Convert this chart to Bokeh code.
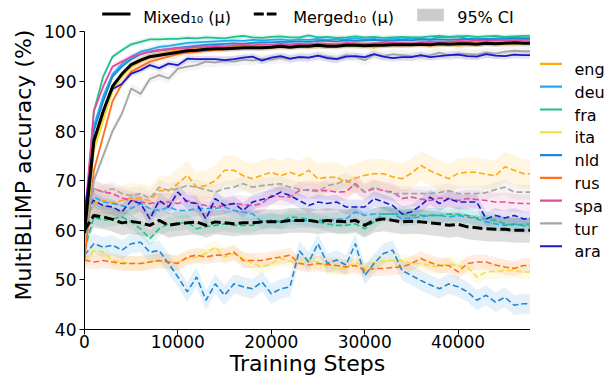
from bokeh.plotting import figure
from bokeh.models import Range1d, FixedTicker
from bokeh.layouts import row
from bokeh.core.properties import value
from bokeh.embed import file_html
from bokeh.resources import INLINE

steps = [0, 1000, 2000, 3000, 4000, 5000, 6000, 7000, 8000, 9000,
         10000, 11000, 12000, 13000, 14000, 15000, 16000, 17000, 18000, 19000,
         20000, 21000, 22000, 23000, 24000, 25000, 26000, 27000, 28000, 29000,
         30000, 31000, 32000, 33000, 34000, 35000, 36000, 37000, 38000, 39000,
         40000, 41000, 42000, 43000, 44000, 45000, 46000, 47000, 48000]

languages = ["eng", "deu", "fra", "ita", "nld", "rus", "spa", "tur", "ara"]
x_ticks = [0, 10000, 20000, 30000, 40000]
y_ticks = [40, 50, 60, 70, 80, 90, 100]
top_labels = ["Mixed\u2081\u2080 (\u03bc)", "Merged\u2081\u2080 (\u03bc)", "95% CI"]

# Mixed_10 models (solid lines)
mixed_eng = [58, 77, 83, 88.5, 91, 93, 94, 95, 95.5, 96, 96.2, 96.4, 96.5, 96.7, 96.8, 96.9, 97, 97.1, 97.2, 96.9,
             97.3, 97.4, 97.2, 97.5, 97.6, 97.3, 97.4, 97.6, 97.5, 97.3, 97.4, 96.8, 97.5, 97.6, 97.4, 97.5, 97.7, 97.2,
             97.6, 97.7, 97.2, 97.5, 97.7, 97.8, 97.6, 97.7, 97.8, 97.9, 97.9]
mixed_deu = [60, 81, 87, 91.5, 93.5, 95, 96, 96.5, 97, 97.2, 97.5, 97.8, 97.9, 98, 98.1, 98.2, 98.3, 98.2, 98.4, 98.3,
             98.4, 98.5, 98.3, 98.5, 98.4, 98.6, 98.4, 98.6, 98.5, 98.7, 98.5, 98.6, 98.4, 98.7, 98.5, 98.7, 98.6, 98.5,
             99, 98.9, 99.1, 98.6, 98.7, 98.5, 98.7, 98.8, 98.9, 98.8, 98.8]
mixed_fra = [60, 84, 91, 95, 96.3, 97.5, 98, 98.5, 98.5, 98.6, 98.6, 98.8, 98.7, 98.9, 98.8, 98.7, 99, 99.2, 98.9, 98.8,
             99, 99.1, 98.9, 98.9, 99.3, 98.9, 99, 98.8, 98.9, 99.1, 98.9, 99, 98.8, 98.9, 99, 98.9, 98.9, 99.1,
             99.2, 99, 99.1, 99.2, 99, 99.1, 99.2, 99, 99.1, 99.2, 99.2]
mixed_ita = [57, 76, 82, 88, 91, 93, 94.5, 95, 95.5, 95.8, 96, 96.2, 96.4, 96.5, 96.7, 96.8, 96.8, 96.9, 97, 97,
             97.1, 97.1, 97.2, 97.2, 97.1, 97.3, 97.2, 97.3, 97.3, 97.2, 97.4, 97.3, 97.4, 97.3, 97.4, 97.5, 97.4, 97.5,
             97.4, 97.5, 97.5, 97.6, 97.5, 97.6, 97.6, 97.7, 97.6, 97.7, 97.7]
mixed_nld = [61, 80, 86, 91, 93, 94.5, 95.5, 96, 96.3, 96.5, 96.8, 97, 97.2, 97.4, 97.5, 97.6, 97.7, 97.6, 97.8, 97.9,
             97.9, 98, 98, 98.1, 98, 98.2, 98.2, 98.1, 98.3, 98.2, 98.3, 98.4, 98.2, 98.3, 98.4, 98.3, 98.5, 98.4,
             98.5, 98.4, 98.5, 98.6, 98.5, 98.6, 98.5, 98.6, 98.7, 98.6, 98.6]
mixed_rus = [54, 72, 79, 86, 89.5, 92, 93, 94, 94.5, 95, 95.5, 95.8, 96, 96.2, 96.4, 96.5, 96.6, 96.7, 96.8, 96.8,
             96.9, 97, 97, 97.1, 97.1, 97.2, 97.2, 97.3, 97.3, 97.4, 97.4, 97.4, 97.5, 97.5, 97.5, 97.6, 97.6, 97.6,
             97.7, 97.7, 97.7, 97.8, 97.7, 97.8, 97.8, 97.9, 97.9, 97.9, 97.9]
mixed_spa = [62, 84, 89, 93, 94, 95, 95.5, 96, 96.3, 96.5, 96.7, 96.8, 96.9, 97, 97.2, 97.1, 97.3, 97.4, 97.3, 97.5,
             97.4, 97.6, 97.5, 97.6, 97.5, 97.7, 97.6, 97.5, 97.8, 97.7, 97.6, 97.7, 97.8, 97.9, 97.8, 97.7, 97.9, 98,
             97.9, 98, 98.2, 98.1, 98.3, 98.2, 98.3, 98.4, 98.3, 98.4, 98.4]
mixed_tur = [58, 70, 75, 80, 83.5, 88.6, 87.5, 90.5, 91.3, 90.6, 92.6, 93, 93.3, 94, 93.8, 94.2, 94, 94.4, 94.2, 94.6,
             94.4, 94.8, 94.5, 95, 94.8, 95.2, 95, 94.6, 95.3, 95, 94.3, 95.4, 95.1, 95.5, 95.3, 95.1, 95, 95.3,
             95.8, 95.2, 95.6, 95.5, 95.4, 95.8, 95.6, 96, 96.2, 96.1, 96.1]
mixed_ara = [63.5, 78, 84, 88.5, 89.5, 91.6, 92.3, 93.3, 92.7, 93.6, 93.3, 94.6, 94.5, 94.5, 94.5, 94.3, 94.5, 94.8, 95, 94.2,
             94.8, 95.1, 94.6, 94.9, 94.8, 95.2, 94.7, 94.5, 95, 95.1, 94.9, 95.5, 95, 94.7, 94.9, 94.9, 95.3, 94.9,
             95.1, 95.3, 95.4, 95.1, 95, 95.5, 95.2, 95.1, 95.4, 95.3, 95.3]
mixed_mean = [59.5, 78, 84, 89, 91.5, 93.4, 94.3, 95, 95.3, 95.6, 95.9, 96.2, 96.3, 96.5, 96.6, 96.6, 96.7, 96.8, 96.8, 96.8,
              96.9, 97.1, 96.9, 97.1, 97.1, 97.3, 97.1, 97.1, 97.3, 97.3, 97.2, 97.3, 97.3, 97.4, 97.4, 97.4, 97.5, 97.4,
              97.6, 97.5, 97.6, 97.6, 97.5, 97.7, 97.6, 97.7, 97.8, 97.7, 97.7]

# Merged_10 models (dashed lines)
merged_eng = [62, 65.5, 66, 65.5, 66, 66.5, 66.4, 66, 68, 68, 69.4, 71.1, 68.7, 69, 70, 72.1, 72.1, 71, 70.4, 71.1,
              71.7, 71, 71.7, 71, 72.1, 70.4, 70.7, 70.7, 69.7, 70.5, 71.1, 71.4, 71.4, 70.8, 70.4, 71.5, 73.1, 72,
              71.2, 70.4, 71.5, 71.7, 71.7, 71.3, 71, 72.8, 72.1, 71.4, 71.4]
merged_deu = [60, 66.7, 65.7, 65.4, 65, 64.4, 65.4, 64.4, 64, 64.7, 64, 64, 64.4, 64.4, 64.4, 64.7, 64, 63.7, 63.3, 61.7,
              62, 61.7, 61.8, 62, 62, 62, 62, 62.2, 62.3, 63.7, 63, 63.3, 63.3, 63.3, 62.3, 62.5, 62.7, 63,
              63, 62.7, 63, 62.7, 62.3, 61.7, 61.3, 61, 61.3, 60.9, 60.7]
merged_fra = [56, 62.7, 62, 62.3, 62.7, 61.7, 60.3, 58.3, 60.3, 61.3, 61.3, 61.7, 60.3, 60.7, 61, 61.3, 61, 61, 61, 61.7,
              62, 61.7, 62.7, 62.5, 62.3, 61.7, 61.3, 61, 61, 61.3, 60.3, 61.7, 63.3, 63.3, 63.3, 63, 63, 63,
              63, 63.3, 63.2, 63, 62.5, 62.3, 62, 61.3, 61, 61.2, 61.3]
merged_ita = [54, 55.9, 55.6, 53.9, 53.6, 53.3, 53.3, 53.6, 53.9, 53.7, 53.6, 54.3, 54.6, 55.3, 56.6, 54.6, 55.3, 54.3, 53.3, 52.6,
              53.3, 54.3, 53.8, 53.3, 53.9, 53.6, 52.6, 52.4, 52.3, 53.6, 52.3, 53.3, 53.9, 53.9, 53.9, 53.3, 53.3, 52.9,
              52.6, 53.3, 52.8, 52.6, 50.6, 51.6, 51.7, 51.9, 51.9, 51.6, 51.6]
merged_nld = [55, 57.3, 56.6, 57, 56, 57.3, 57.6, 55.6, 55.9, 53.3, 50.6, 47.6, 50.6, 45.9, 49.2, 46.9, 49.2, 48.6, 48.2, 49.6,
              47.2, 48.2, 48.6, 55.9, 53.6, 57.3, 53.3, 54, 53, 57.3, 50.9, 53.3, 55.3, 56, 51.9, 50.9, 49.9, 49,
              48.2, 49.2, 48.6, 47.6, 45.9, 46.9, 45.5, 46.5, 44.9, 45.2, 45.2]
merged_rus = [54, 53.6, 53.9, 53.6, 53.3, 53.3, 53.3, 53.6, 53.9, 53.6, 53.3, 54.6, 55, 54.6, 55, 55, 55.6, 53.9, 53.9, 53.9,
              54.3, 54.6, 55, 53.3, 53, 53.3, 53.1, 52.9, 52.6, 52.9, 51.9, 52.3, 52.3, 52.5, 52.6, 53.3, 54.3, 53.5,
              52.9, 52.9, 51.6, 53.3, 53.6, 53.6, 53, 52.6, 52.3, 52.9, 52.9]
merged_spa = [62, 68.4, 67.7, 67.4, 66.5, 66, 65.7, 65.4, 65.7, 65.7, 65.4, 66, 65.4, 65, 64.7, 65, 65.4, 65.2, 65, 65.4,
              67, 66.8, 66.7, 68, 68.2, 68, 68, 67.7, 67.8, 69.4, 67.7, 68.4, 68, 67.7, 66.4, 66.7, 66.3, 66,
              66.5, 66.4, 66, 66.4, 66.2, 66, 65.7, 65.7, 65.5, 65.4, 65.4]
merged_tur = [63, 68.4, 67.7, 68.4, 67.4, 67, 67.4, 66.4, 68.7, 68, 68.4, 69, 68.7, 68.2, 67.7, 68.4, 68.7, 69.4, 68.7, 69,
              69.2, 69.4, 68.7, 68.3, 68, 67.8, 69, 69.4, 70.1, 69, 67.7, 68.7, 68, 67.4, 67.4, 67.4, 67.4, 67.4,
              67.6, 68, 67.4, 67.4, 67.4, 67.6, 68.2, 68.7, 67.7, 67.7, 67.7]
merged_ara = [64, 66, 65, 64.7, 63.7, 66, 65.4, 62.3, 66, 64.7, 67.7, 65.7, 65.4, 62.3, 66.4, 65, 65.4, 64, 65.7, 66.2,
              66.7, 67.7, 67, 66, 65, 65.7, 65.4, 65.7, 64.7, 64.7, 64.7, 66.4, 65.7, 65, 63.3, 63.7, 65, 66.7,
              65.4, 66.4, 65.7, 65.7, 65.7, 62.3, 63, 62.5, 63, 62.3, 62.3]
merged_mean = [60, 63, 62.7, 62.2, 61.5, 61.8, 61.5, 61, 62, 61, 61.3, 61.5, 61.7, 61, 61.7, 61.5, 61.3, 61.5, 61.5, 61.7,
               61.7, 61.7, 62, 62, 62, 61.7, 62, 61.8, 61.7, 62, 61, 62, 62.3, 62, 61.7, 61.8, 61.7, 61.5,
               61.3, 61, 61.2, 60.7, 60.5, 60.3, 60.2, 60.2, 60, 60, 60]

# half width of the 95% CI bands
ci_mixed = [0.7, 0.5, 0.5, 0.6, 0.5, 0.6, 0.6, 1.0, 0.7]
ci_merged = [3.0, 1.5, 1.5, 1.5, 2.0, 1.5, 1.8, 1.5, 1.5]
ci_mixed_mean = 0.6
ci_merged_mean = 2.5

colors = ["#ffa90a", "#22aaee", "#1fbf8f", "#f2df3a", "#1f88d3", "#ff6f1c", "#e64a9c", "#a5a5a5", "#1919c8"]

mixed = dict(zip(languages, [mixed_eng, mixed_deu, mixed_fra, mixed_ita, mixed_nld,
                             mixed_rus, mixed_spa, mixed_tur, mixed_ara]))
merged = dict(zip(languages, [merged_eng, merged_deu, merged_fra, merged_ita, merged_nld,
                              merged_rus, merged_spa, merged_tur, merged_ara]))

FONT = "DejaVu Sans"
H = 381
MAIN_W = 530
RIGHT_W = 613 - MAIN_W
BL, BB = 84, 52           # left / bottom borders of the main plot (pixels)
X_END = 47750
FRAME_W, FRAME_H = MAIN_W - BL, H - BB
PX_PER_UNIT = 4.96        # vertical pixels per accuracy point
Y_TOP = 40 + FRAME_H / PX_PER_UNIT   # frame reaches the top of the canvas; the axis stops at 100


def sx(px):   # canvas pixel -> data x (layout helper for the legend)
    return (px - BL) / FRAME_W * X_END


def sy(py):   # canvas pixel -> data y (layout helper for the legend)
    return 40 + (FRAME_H - py) / PX_PER_UNIT


# ---------- main plot ----------
p = figure(width=MAIN_W, height=H, x_range=Range1d(0, X_END), y_range=Range1d(40, Y_TOP),
           output_backend="svg", toolbar_location=None,
           min_border_left=BL, min_border_right=0, min_border_top=0, min_border_bottom=BB)
p.outline_line_color = None
p.xgrid.visible = False
p.ygrid.visible = False
p.background_fill_color = "white"
p.border_fill_color = "white"

p.xaxis.ticker = FixedTicker(ticks=x_ticks)
p.yaxis.ticker = FixedTicker(ticks=y_ticks)
p.yaxis.bounds = (40, 100)
for ax in (p.xaxis[0], p.yaxis[0]):
    ax.axis_line_color = "black"
    ax.axis_line_width = 1
    ax.major_tick_line_color = "black"
    ax.major_tick_line_width = 1
    ax.major_tick_out = 5
    ax.major_tick_in = 0
    ax.minor_tick_out = 0
    ax.minor_tick_in = 0
    ax.major_label_text_font = FONT
    ax.major_label_text_font_size = "17px"
    ax.major_label_text_color = "black"
    ax.axis_label_text_font = FONT
    ax.axis_label_text_font_style = "normal"
    ax.axis_label_text_font_size = "22px"
    ax.axis_label_text_color = "black"
p.xaxis.axis_label = "Training Steps"
p.yaxis.axis_label = "MultiBLiMP accuracy (%)"
p.xaxis.major_label_standoff = 0
p.xaxis.axis_label_standoff = 0
p.yaxis.major_label_standoff = 3
p.yaxis.axis_label_standoff = 5

for lang, c, hw in zip(languages, colors, ci_merged):
    v = merged[lang]
    p.varea(x=steps, y1=[a - hw for a in v], y2=[a + hw for a in v], fill_color=c, fill_alpha=0.12)
for lang, c, hw in zip(languages, colors, ci_mixed):
    v = mixed[lang]
    p.varea(x=steps, y1=[a - hw for a in v], y2=[a + hw for a in v], fill_color=c, fill_alpha=0.12)
p.varea(x=steps, y1=[a - ci_merged_mean for a in merged_mean], y2=[a + ci_merged_mean for a in merged_mean],
        fill_color="black", fill_alpha=0.13)
p.varea(x=steps, y1=[a - ci_mixed_mean for a in mixed_mean], y2=[a + ci_mixed_mean for a in mixed_mean],
        fill_color="black", fill_alpha=0.13)

for lang, c in zip(languages, colors):
    p.line(steps, merged[lang], line_color=c, line_width=1.6, line_dash="6 3")
for lang, c in zip(languages, colors):
    p.line(steps, mixed[lang], line_color=c, line_width=1.8)
p.line(steps, merged_mean, line_color="black", line_width=3, line_dash="10 4")
p.line(steps, mixed_mean, line_color="black", line_width=3)

# ---------- top legend, drawn in the free space above y = 100 ----------
p.line([sx(101.7), sx(130)], [sy(13.5), sy(13.5)], line_color="black", line_width=3)
p.line([sx(253.3), sx(276)], [sy(13.5), sy(13.5)], line_color="black", line_width=3, line_dash="10 3")
p.quad(left=[sx(416.7)], right=[sx(443.3)], top=[sy(8.3)], bottom=[sy(20.7)],
       fill_color="black", fill_alpha=0.2, line_alpha=0)
p.text(x=[sx(142.7), sx(292.7), sx(456.7)], y=[sy(16.5)] * 3, text=top_labels, text_font=value(FONT),
       text_font_size="16px", text_color="black", text_baseline="alphabetic", text_align="left")

# ---------- right legend (own small canvas, pixel coordinates) ----------
r = figure(width=RIGHT_W, height=H, x_range=Range1d(0, RIGHT_W), y_range=Range1d(H, 0),
           output_backend="svg", toolbar_location=None, x_axis_location=None, y_axis_location=None,
           min_border=0, min_border_left=0, min_border_right=0, min_border_top=0, min_border_bottom=0)
r.outline_line_color = None
r.grid.visible = False
r.background_fill_color = "white"
r.border_fill_color = "white"
item_y = [73.3, 99.8, 126.2, 152.6, 179.0, 205.4, 231.8, 258.2, 284.6]
for yy, c in zip(item_y, colors):
    r.line([9.5, 31.5], [yy, yy], line_color=c, line_width=2.2)
r.text(x=[44] * len(languages), y=[yy + 6.5 for yy in item_y], text=languages,
       text_font=value(FONT), text_font_size="16px", text_color="black",
       text_baseline="alphabetic", text_align="left")

layout = row(p, r, spacing=0)
open("out.html", "w").write(file_html(layout, INLINE))
